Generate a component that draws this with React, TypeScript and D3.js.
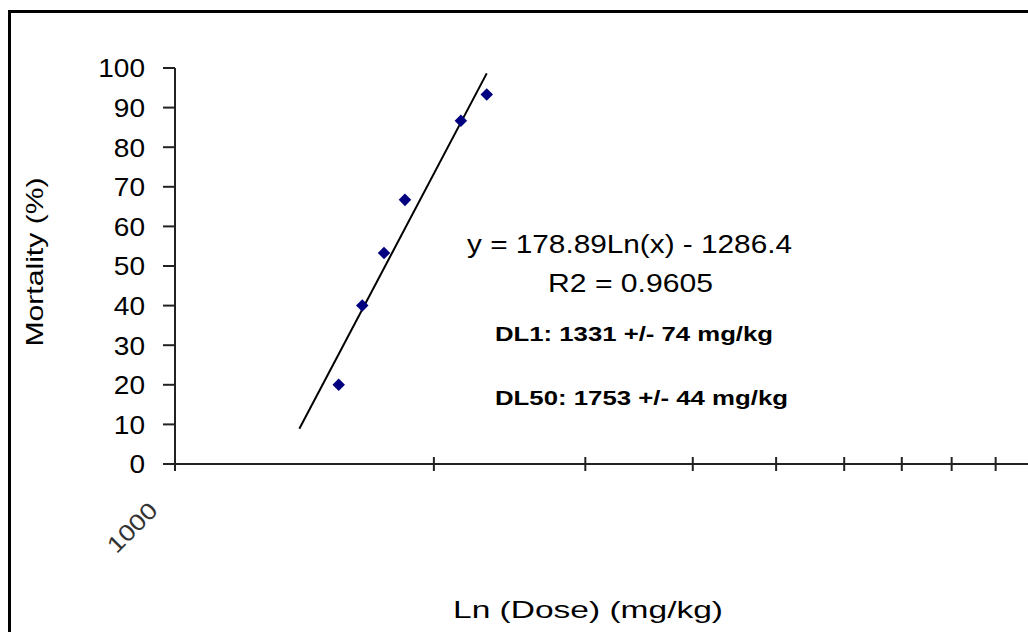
import React from 'react';
import * as d3 from 'd3';

// observed points (dose in mg/kg, mortality in %)
const doses = [1550, 1651, 1750, 1851, 2150, 2304];
const mortality = [20, 40, 53.3, 66.7, 86.7, 93.3];

// log trendline y = a*Ln(x) + b, drawn from trendFrom to the last dose
const trendSlope = 178.89;
const trendIntercept = -1286.4;
const trendFrom = 1395;

const yTicks = [0, 10, 20, 30, 40, 50, 60, 70, 80, 90, 100];
const xTicks = [1000, 2000, 3000, 4000, 5000, 6000, 7000, 8000, 9000, 10000];
const xTickLabels = ['1000'];

const eqLabel = 'y = 178.89Ln(x) - 1286.4';
const r2Label = 'R2 = 0.9605';
const dl1Label = 'DL1: 1331 +/- 74 mg/kg';
const dl50Label = 'DL50: 1753 +/- 44 mg/kg';

const font = '"Liberation Sans", Arial, sans-serif';

export default function App() {
  const width = 1028;
  const height = 632;

  const x = d3.scaleLog().domain([1000, 10000]).range([175, 1035]);
  const y = d3.scaleLinear().domain([0, 100]).range([464, 68]);

  const trend = (d: number) => trendSlope * Math.log(d) + trendIntercept;
  const trendEnd = d3.max(doses) as number;
  const line = d3.line<number>().x(d => x(d)).y(d => y(trend(d)));

  const diamond = d3.symbol().type(d3.symbolDiamond2).size(100)();

  return (
    <svg
      width={width}
      height={height}
      style={{ position: 'absolute', left: 0, top: 0, background: '#fff' }}
      fontFamily={font}
    >
      <rect x={9.5} y={11.5} width={1100} height={700} fill="#fff" stroke="#000" strokeWidth={3} />

      {/* y axis */}
      <line x1={x(1000)} x2={x(1000)} y1={y(100)} y2={y(0)} stroke="#222" strokeWidth={2} />
      {yTicks.map(t => (
        <g key={t}>
          <line x1={x(1000) - 12} x2={x(1000)} y1={y(t)} y2={y(t)} stroke="#222" strokeWidth={2} />
          <text
            x={145}
            y={y(t)}
            dy="0.36em"
            textAnchor="end"
            fontSize={26}
            textLength={String(t).length * 15.6}
            lengthAdjust="spacingAndGlyphs"
          >
            {t}
          </text>
        </g>
      ))}

      {/* x axis */}
      <line x1={x(1000)} x2={x(10000) + 20} y1={y(0)} y2={y(0)} stroke="#222" strokeWidth={2} />
      {xTicks.map(t => (
        <line key={t} x1={x(t)} x2={x(t)} y1={y(0) - 7} y2={y(0) + 7} stroke="#222" strokeWidth={2} />
      ))}
      {xTickLabels.map((l, i) => (
        <text
          key={l}
          transform={`translate(${x(xTicks[i]) - 16},${y(0) + 48}) rotate(-45)`}
          textAnchor="end"
          fontSize={23}
          fill="#333"
          textLength={60}
          lengthAdjust="spacingAndGlyphs"
        >
          {l}
        </text>
      ))}

      {/* trendline */}
      <path d={line([trendFrom, trendEnd]) || ''} fill="none" stroke="#000" strokeWidth={2} />

      {/* points */}
      {doses.map((d, i) => (
        <path key={i} d={diamond || ''} transform={`translate(${x(d)},${y(mortality[i])})`} fill="#000080" />
      ))}

      {/* annotations */}
      <text x={467} y={253} fontSize={25} textLength={325} lengthAdjust="spacingAndGlyphs">{eqLabel}</text>
      <text x={548} y={292} fontSize={25} textLength={165} lengthAdjust="spacingAndGlyphs">{r2Label}</text>
      <text x={495} y={341} fontSize={21} fontWeight="bold" textLength={278} lengthAdjust="spacingAndGlyphs">{dl1Label}</text>
      <text x={495} y={405} fontSize={21} fontWeight="bold" textLength={293} lengthAdjust="spacingAndGlyphs">{dl50Label}</text>

      {/* axis titles */}
      <text
        transform="translate(43,262) rotate(-90)"
        textAnchor="middle"
        fontSize={24}
        textLength={169}
        lengthAdjust="spacingAndGlyphs"
      >
        Mortality (%)
      </text>
      <text x={588} y={618} textAnchor="middle" fontSize={24} textLength={270} lengthAdjust="spacingAndGlyphs">
        Ln (Dose) (mg/kg)
      </text>
    </svg>
  );
}
